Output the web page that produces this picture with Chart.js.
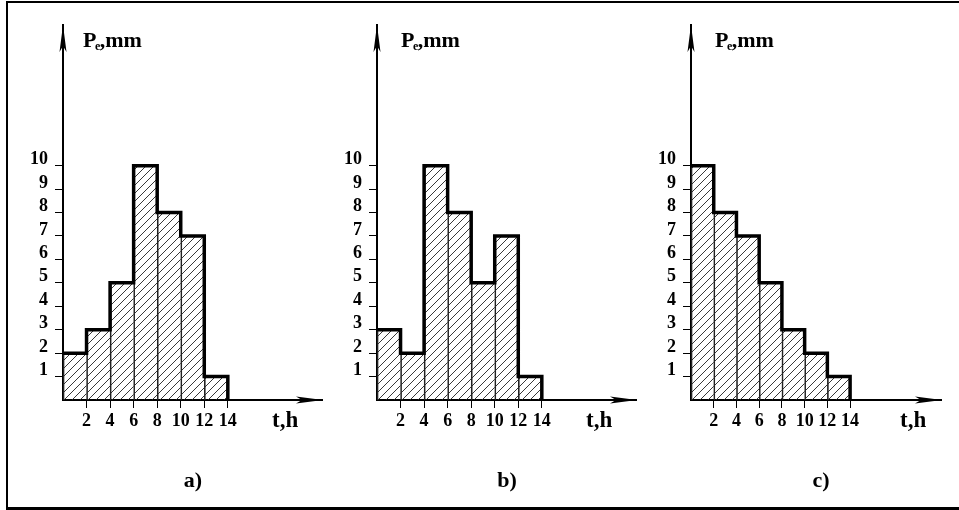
<!DOCTYPE html>
<html>
<head>
<meta charset="utf-8">
<script src="https://cdn.jsdelivr.net/npm/chart.js@4"></script>
<style>
  html, body { margin: 0; padding: 0; background: #fff; }
  #wrap { position: relative; width: 959px; height: 510px; overflow: hidden; background: #fff; }
  #frame { position: absolute; left: 6px; top: 1px; width: 960px; height: 504px;
           border-left: 2px solid #000; border-top: 2px solid #000; border-bottom: 3px solid #000; }
  canvas { position: absolute; top: 0; }
</style>
</head>
<body>
<div id="wrap">
  <div id="frame"></div>
  <canvas id="cA" width="340" height="510" style="left:0px"></canvas>
  <canvas id="cB" width="340" height="510" style="left:314px"></canvas>
  <canvas id="cC" width="331" height="510" style="left:628px"></canvas>
</div>
<script>
// ---- data ----
const timeEdges = [0, 2, 4, 6, 8, 10, 12, 14];          // hours
const xTickValues = [2, 4, 6, 8, 10, 12, 14];
const yTickValues = [1, 2, 3, 4, 5, 6, 7, 8, 9, 10];
const seriesA = [2, 3, 5, 10, 8, 7, 1];                  // Pe, mm per 2-h interval
const seriesB = [3, 2, 10, 8, 5, 7, 1];
const seriesC = [10, 8, 7, 5, 3, 2, 1];
const panelLabels = ['a)', 'b)', 'c)'];
const yTitleMain = 'P', yTitleSub = 'e', yTitleRest = ',mm';
const xTitle = 't,h';
const xAxisMax = 22, yAxisMax = 16;

// ---- hatch pattern ----
function makeHatch() {
  const s = 8;
  const c = document.createElement('canvas');
  c.width = s; c.height = s;
  const g = c.getContext('2d');
  g.strokeStyle = '#222';
  g.lineWidth = 0.9;
  g.beginPath();
  g.moveTo(-1, s + 1); g.lineTo(s + 1, -1);
  g.moveTo(-1, 1); g.lineTo(1, -1);
  g.moveTo(s - 1, s + 1); g.lineTo(s + 1, s - 1);
  g.stroke();
  return g.createPattern(c, 'repeat');
}

const SERIF = '"Liberation Serif", "Times New Roman", serif';

function makePanel(canvasId, values, panelLabel, titleDx) {
  const ctx = document.getElementById(canvasId).getContext('2d');
  const hatch = makeHatch();
  const barData = values.map((v, i) => ({ x: (timeEdges[i] + timeEdges[i + 1]) / 2, y: v }));
  const stepData = values.map((v, i) => ({ x: timeEdges[i], y: v }));
  stepData.push({ x: timeEdges[timeEdges.length - 1], y: values[values.length - 1] });
  stepData.push({ x: timeEdges[timeEdges.length - 1], y: 0 });

  const decor = {
    id: 'decor',
    afterDraw(chart) {
      const c = chart.ctx;
      const xs = chart.scales.x, ys = chart.scales.y;
      const ax = xs.getPixelForValue(0);
      const ay = ys.getPixelForValue(0);
      const topY = ys.getPixelForValue(yAxisMax);
      const rightX = xs.getPixelForValue(xAxisMax);
      c.save();
      c.fillStyle = '#000';
      // y arrow
      c.beginPath();
      c.moveTo(ax, topY);
      c.lineTo(ax + 3.5, topY + 27);
      c.lineTo(ax, topY + 21);
      c.lineTo(ax - 3.5, topY + 27);
      c.closePath();
      c.fill();
      // x arrow
      c.beginPath();
      c.moveTo(rightX + 1, ay);
      c.lineTo(rightX - 26, ay - 3.5);
      c.lineTo(rightX - 20, ay);
      c.lineTo(rightX - 26, ay + 3.5);
      c.closePath();
      c.fill();
      // y title P_e,mm
      c.textBaseline = 'alphabetic';
      c.textAlign = 'left';
      let tx = ax + titleDx;
      const ty = 47;
      c.font = 'bold 22px ' + SERIF;
      c.fillText(yTitleMain, tx, ty);
      tx += c.measureText(yTitleMain).width - 1.5;
      c.font = 'bold 12px ' + SERIF;
      c.fillText(yTitleSub, tx, ty + 3);
      tx += c.measureText(yTitleSub).width - 0.5;
      c.font = 'bold 22px ' + SERIF;
      c.fillText(yTitleRest, tx, ty);
      // x title
      c.font = 'bold 23px ' + SERIF;
      c.fillText(xTitle, ax + 209, 427);
      // panel label
      c.font = 'bold 22px ' + SERIF;
      c.textAlign = 'center';
      c.fillText(panelLabel, ax + 130, 487);
      c.restore();
    }
  };

  return new Chart(ctx, {
    type: 'bar',
    data: {
      datasets: [
        {
          type: 'line',
          data: stepData,
          stepped: 'before',
          borderColor: '#000',
          borderWidth: 3.5,
          borderJoinStyle: 'miter',
          borderCapStyle: 'butt',
          pointRadius: 0,
          fill: false,
          order: 0
        },
        {
          type: 'bar',
          data: barData,
          backgroundColor: hatch,
          borderColor: '#222',
          borderWidth: { left: 1, right: 0, top: 0, bottom: 0 },
          borderSkipped: false,
          barPercentage: 1,
          categoryPercentage: 1,
          order: 1
        }
      ]
    },
    options: {
      responsive: false,
      animation: false,
      events: [],
      layout: { padding: { left: 0, top: 25, right: 18, bottom: 0 } },
      plugins: { legend: { display: false }, tooltip: { enabled: false } },
      scales: {
        x: {
          type: 'linear',
          min: 0, max: xAxisMax,
          offset: false,
          afterFit(s) { s.height = 110; },
          afterBuildTicks(s) { s.ticks = xTickValues.map(v => ({ value: v })); },
          grid: { offset: false, drawOnChartArea: false, drawTicks: true, tickLength: 8, color: '#000', lineWidth: 1 },
          border: { display: true, color: '#000', width: 2 },
          ticks: { color: '#000', padding: 3, maxRotation: 0, autoSkip: false,
                   font: { family: SERIF, size: 18, weight: 'bold' } }
        },
        y: {
          type: 'linear',
          min: 0, max: yAxisMax,
          afterFit(s) { s.width = 63; },
          afterBuildTicks(s) { s.ticks = yTickValues.map(v => ({ value: v })); },
          grid: { drawOnChartArea: false, drawTicks: true, tickLength: 8, color: '#000', lineWidth: 1 },
          border: { display: true, color: '#000', width: 2 },
          ticks: { color: '#000', padding: 7, labelOffset: -6, autoSkip: false,
                   font: { family: SERIF, size: 18, weight: 'bold' } }
        }
      }
    },
    plugins: [decor]
  });
}

makePanel('cA', seriesA, panelLabels[0], 20);
makePanel('cB', seriesB, panelLabels[1], 24);
makePanel('cC', seriesC, panelLabels[2], 24);
</script>
</body>
</html>
